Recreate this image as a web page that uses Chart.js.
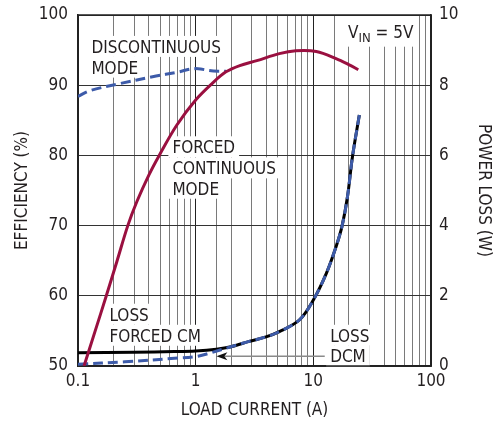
<!DOCTYPE html>
<html>
<head>
<meta charset="utf-8">
<script src="https://cdn.jsdelivr.net/npm/chart.js@4.4.1/dist/chart.umd.min.js"></script>
<style>
  html, body { margin: 0; padding: 0; background: #fff; }
</style>
</head>
<body>
<canvas id="myChart" width="495" height="424"></canvas>
<script>
// efficiency, forced continuous mode (A, %)
var ccmCurrent = [0.1125, 0.14, 0.174, 0.215, 0.265, 0.316, 0.40, 0.49, 0.69, 1.0, 1.39, 1.81, 2.37, 3.31, 5.14, 7.1, 10.6, 15.6, 20.2, 24.1];
var ccmEff = [50, 55, 60, 65, 70, 73.4, 77.2, 80, 84.3, 87.9, 90.3, 91.9, 92.8, 93.5, 94.5, 94.9, 94.8, 93.8, 92.9, 92.2];
// efficiency, discontinuous mode
var dcmCurrent = [0.1, 0.125, 0.223, 0.43, 0.72, 0.9, 1.05, 1.3, 1.55, 1.81];
var dcmEff = [88.4, 89.2, 90.2, 91.2, 91.9, 92.3, 92.35, 92.1, 92.0, 92.0];
// power loss (W)
var lossCurrent = [0.1, 0.3, 0.66, 1.0, 1.5, 2.0, 2.85, 3.96, 5.14, 7.6, 10, 12.9, 15.6, 17.5, 19.5, 21.5, 24.6];
var lossCM = [0.38, 0.39, 0.41, 0.43, 0.48, 0.55, 0.70, 0.83, 0.98, 1.31, 1.88, 2.64, 3.40, 3.97, 4.82, 5.96, 7.15];
var lossDCMCurrent = [0.1, 0.25, 0.66, 1.0, 1.26, 2.0, 2.85, 3.96, 5.14, 7.6, 10, 12.9, 15.6, 17.5, 19.5, 21.5, 24.6];
var lossDCM = [0.05, 0.12, 0.22, 0.27, 0.35, 0.55, 0.70, 0.83, 0.98, 1.31, 1.88, 2.64, 3.40, 3.97, 4.82, 5.96, 7.15];

var xTicks = [0.1, 1, 10, 100];
var effTicks = [50, 60, 70, 80, 90, 100];
var lossTicks = [0, 2, 4, 6, 8, 10];

// text notes, anchored at (current, efficiency) = left / baseline
var notes = [
    { text: "DISCONTINUOUS", x: 0.13, y: 94.6 },
    { text: "MODE", x: 0.13, y: 91.65 },
    { text: "FORCED", x: 0.634, y: 80.3 },
    { text: "CONTINUOUS", x: 0.634, y: 77.3 },
    { text: "MODE", x: 0.634, y: 74.4 },
    { text: "LOSS", x: 0.185, y: 56.45 },
    { text: "FORCED CM", x: 0.185, y: 53.45 },
    { text: "LOSS", x: 13.9, y: 53.45 },
    { text: "DCM", x: 13.9, y: 50.5 }
];

var FONT = "'DejaVu Sans Condensed', 'Liberation Sans Narrow', sans-serif";
var INK = "#231f20";
var RED = "#9a1040";
var BLUE = "#3d5ba9";

function pts(xs, ys) {
    var out = [];
    for (var i = 0; i < xs.length; i++) out.push({ x: xs[i], y: ys[i] });
    return out;
}
function isDecade(v) {
    var l = Math.log10(v);
    return Math.abs(l - Math.round(l)) < 1e-6;
}

var notesPlugin = {
    id: "notes",
    beforeDatasetsDraw: function (chart) {
        var ctx = chart.ctx, xs = chart.scales.x, ys = chart.scales.y, a = chart.chartArea;
        ctx.save();
        ctx.font = "17px " + FONT;
        ctx.textBaseline = "alphabetic";
        ctx.textAlign = "left";
        notes.forEach(function (n) {
            var px = xs.getPixelForValue(n.x), py = ys.getPixelForValue(n.y);
            var w = ctx.measureText(n.text).width;
            ctx.fillStyle = "#fff";
            ctx.fillRect(px - 4, py - 17, w + 8, 21);
            ctx.fillStyle = INK;
            ctx.fillText(n.text, px, py);
        });
        // V_IN = 5V
        var vx = xs.getPixelForValue(19.7), vy = ys.getPixelForValue(96.77);
        ctx.fillStyle = "#fff";
        ctx.fillRect(vx - 4, a.top + 1, 72, vy - a.top + 8);
        ctx.fillStyle = INK;
        ctx.fillText("V", vx, vy);
        var vw = ctx.measureText("V").width;
        ctx.font = "13px " + FONT;
        ctx.fillText("IN", vx + vw, vy + 4);
        var iw = ctx.measureText("IN").width;
        ctx.font = "17px " + FONT;
        ctx.fillText(" = 5V", vx + vw + iw, vy);
        // arrow toward the DCM loss curve
        var y1 = chart.scales.y1;
        var ay = y1.getPixelForValue(0.28);
        var ax0 = xs.getPixelForValue(12.5), ax1 = xs.getPixelForValue(1.5);
        ctx.strokeStyle = "#8a8a8a";
        ctx.lineWidth = 1.5;
        ctx.beginPath();
        ctx.moveTo(ax0, ay);
        ctx.lineTo(ax1 + 8, ay);
        ctx.stroke();
        ctx.fillStyle = "#111";
        ctx.beginPath();
        ctx.moveTo(ax1, ay);
        ctx.lineTo(ax1 + 11, ay - 4);
        ctx.lineTo(ax1 + 8, ay);
        ctx.lineTo(ax1 + 11, ay + 4);
        ctx.closePath();
        ctx.fill();
        // frame
        ctx.strokeStyle = "#222";
        ctx.lineWidth = 1.5;
        ctx.strokeRect(a.left, a.top, a.right - a.left, a.bottom - a.top);
        ctx.restore();
    }
};

function fitVertical(w) {
    return function (s) {
        s.width = w;
        s.paddingTop = 0;
        s.paddingBottom = 0;
    };
}

var myChart = document.getElementById("myChart");
var chart = new Chart(myChart, {
    type: "line",
    data: {
        datasets: [{
            label: "Forced continuous mode",
            data: pts(ccmCurrent, ccmEff),
            yAxisID: "y",
            borderColor: RED,
            borderWidth: 3,
            order: 1
        }, {
            label: "Discontinuous mode",
            data: pts(dcmCurrent, dcmEff),
            yAxisID: "y",
            borderColor: BLUE,
            borderWidth: 3,
            borderDash: [10, 5],
            order: 2
        }, {
            label: "Loss DCM",
            data: pts(lossDCMCurrent, lossDCM),
            yAxisID: "y1",
            borderColor: BLUE,
            borderWidth: 3,
            borderDash: [10, 5],
            order: 3
        }, {
            label: "Loss forced CM",
            data: pts(lossCurrent, lossCM),
            yAxisID: "y1",
            borderColor: "#000",
            borderWidth: 3,
            order: 4
        }]
    },
    options: {
        responsive: false,
        maintainAspectRatio: false,
        animation: false,
        devicePixelRatio: 1,
        layout: { padding: { top: 15, left: 0, right: 0, bottom: 0 } },
        elements: {
            point: { radius: 0 },
            line: { tension: 0.35, fill: false }
        },
        plugins: { legend: { display: false }, tooltip: { enabled: false } },
        scales: {
            x: {
                type: "logarithmic",
                min: 0.1,
                max: 100,
                afterFit: function (s) { s.height = 58; },
                border: { display: true, color: "#222", width: 1.5 },
                grid: {
                    drawTicks: false,
                    lineWidth: 1,
                    color: function (c) { return isDecade(c.tick.value) ? "#222" : "#7a7a7a"; }
                },
                ticks: {
                    autoSkip: false,
                    maxRotation: 0,
                    padding: 5,
                    color: INK,
                    font: { family: FONT, size: 17 },
                    callback: function (v) {
                        for (var i = 0; i < xTicks.length; i++) {
                            if (Math.abs(v - xTicks[i]) < 1e-9) return String(xTicks[i]);
                        }
                        return "";
                    }
                },
                title: {
                    display: true,
                    text: "LOAD CURRENT (A)",
                    color: INK,
                    font: { family: FONT, size: 17 },
                    padding: { top: 0, bottom: 3 }
                }
            },
            y: {
                position: "left",
                min: 50,
                max: 100,
                afterFit: fitVertical(78),
                afterBuildTicks: function (s) { s.ticks = effTicks.map(function (v) { return { value: v }; }); },
                border: { display: true, color: "#222", width: 1.5 },
                grid: { drawTicks: false, color: "#333", lineWidth: 1 },
                ticks: {
                    padding: 10,
                    color: INK,
                    font: { family: FONT, size: 17 }
                },
                title: {
                    display: true,
                    text: "EFFICIENCY (%)",
                    color: INK,
                    font: { family: FONT, size: 17 },
                    padding: { top: 12, bottom: 0 }
                }
            },
            y1: {
                position: "right",
                min: 0,
                max: 10,
                afterFit: fitVertical(64),
                afterBuildTicks: function (s) { s.ticks = lossTicks.map(function (v) { return { value: v }; }); },
                border: { display: true, color: "#222", width: 1.5 },
                grid: { display: false, drawTicks: false },
                ticks: {
                    padding: 8,
                    color: INK,
                    font: { family: FONT, size: 17 }
                },
                title: {
                    display: true,
                    text: "POWER LOSS (W)",
                    color: INK,
                    font: { family: FONT, size: 17 },
                    padding: { top: 1, bottom: 0 }
                }
            }
        }
    },
    plugins: [notesPlugin]
});
</script>
</body>
</html>
